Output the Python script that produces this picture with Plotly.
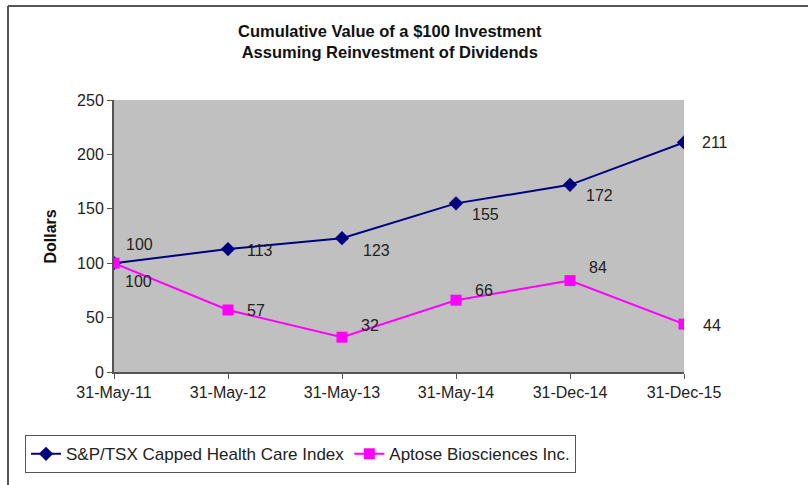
import plotly.graph_objects as go

dates = ["31-May-11", "31-May-12", "31-May-13", "31-May-14", "31-Dec-14", "31-Dec-15"]
index_name = "S&P/TSX Capped Health Care Index"
aptose_name = "Aptose Biosciences Inc."
index_values = [100, 113, 123, 155, 172, 211]
aptose_values = [100, 57, 32, 66, 84, 44]

# label offsets (px) for data labels
index_offsets = [(25, 19), (32, -1), (34, -12), (29, -11), (29, -11), (31, 0)]
aptose_offsets = [(24, -18), (28, -1), (28, 12), (28, 10), (28, 13), (28, -1)]

L, R, T, B = 114, 124, 100, 110
W, H = 808, 485
pw, ph = W - L - R, H - T - B

def px(x):
    return (x - L) / pw

def py(y):
    return (H - B - y) / ph

fig = go.Figure()
fig.add_trace(go.Scatter(
    x=dates, y=index_values, name=index_name, mode="lines+markers",
    line=dict(color="#000080", width=2),
    marker=dict(symbol="diamond", size=11, color="#000080"),
))
fig.add_trace(go.Scatter(
    x=dates, y=aptose_values, name=aptose_name, mode="lines+markers",
    line=dict(color="#FF00FF", width=2),
    marker=dict(symbol="square", size=11, color="#FF00FF"),
))

annotations = []
for d, v, (dx, dy) in zip(dates, index_values, index_offsets):
    annotations.append(dict(x=d, y=v, xref="x", yref="y", text=str(v), showarrow=False,
                            xshift=dx, yshift=dy, font=dict(size=16, color="#222222")))
for d, v, (dx, dy) in zip(dates, aptose_values, aptose_offsets):
    annotations.append(dict(x=d, y=v, xref="x", yref="y", text=str(v), showarrow=False,
                            xshift=dx, yshift=dy, font=dict(size=16, color="#222222")))

annotations.append(dict(
    x=px(390), y=py(41), xref="paper", yref="paper", showarrow=False,
    xanchor="center", yanchor="middle",
    text="<b>Cumulative Value of a $100 Investment<br>Assuming Reinvestment of Dividends</b>",
    font=dict(size=16.5, color="#111111"), align="center"))
annotations.append(dict(
    x=px(50), y=py(238), xref="paper", yref="paper", showarrow=False,
    xanchor="center", yanchor="middle",
    text="<b>Dollars</b>", textangle=-90, font=dict(size=16, color="#111111")))

shapes = [
    dict(type="line", xref="paper", yref="paper", x0=px(8), x1=px(810), y0=py(5), y1=py(5),
         line=dict(color="#555555", width=2)),
    dict(type="line", xref="paper", yref="paper", x0=px(8), x1=px(8), y0=py(5), y1=py(490),
         line=dict(color="#555555", width=2)),
]

fig.update_layout(
    width=W, height=H,
    margin=dict(l=L, r=R, t=T, b=B),
    paper_bgcolor="white", plot_bgcolor="#C0C0C0",
    font=dict(family="Liberation Sans, Arial, sans-serif", size=16, color="#222222"),
    showlegend=True,
    legend=dict(orientation="h", x=px(25), y=py(439), xanchor="left", yanchor="top",
                bordercolor="#555555", borderwidth=1, bgcolor="white",
                font=dict(size=17, color="#222222"), itemwidth=30, tracegroupgap=0),
    annotations=annotations,
    shapes=shapes,
)
fig.update_xaxes(type="category", range=[0, 5], showgrid=False, zeroline=False,
                 showline=True, linecolor="#555555", linewidth=2,
                 ticks="outside", ticklen=5, tickcolor="#555555",
                 tickfont=dict(size=16, color="#222222"))
fig.update_yaxes(range=[0, 250], tickvals=[0, 50, 100, 150, 200, 250], showgrid=False,
                 zeroline=False, showline=True, linecolor="#555555", linewidth=2,
                 ticks="outside", ticklen=5, tickcolor="#555555",
                 tickfont=dict(size=16, color="#222222"))

fig.write_html("out.html", config={"displayModeBar": False},
               post_script="document.body.style.margin='0';document.body.style.overflow='hidden';")
